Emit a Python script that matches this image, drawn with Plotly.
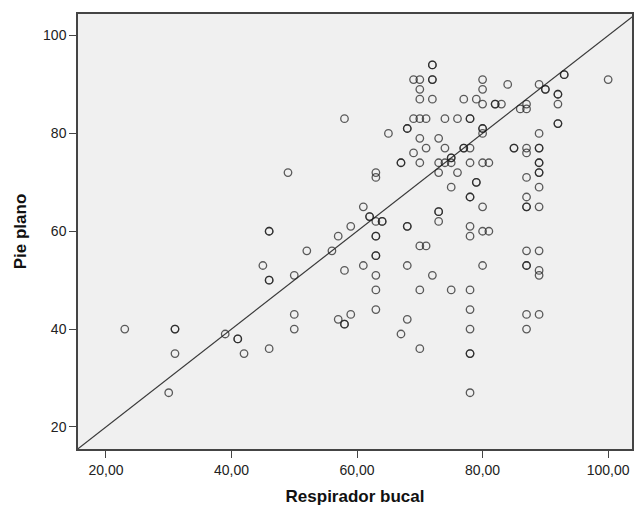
import plotly.graph_objects as go

# Respirador bucal (x) and Pie plano (y) pairs
resp_bucal = [
    23, 30, 31, 31, 31, 39, 41, 41, 42, 45,
    46, 46, 46, 46, 46, 49, 50, 50, 50, 52,
    56, 57, 57, 58, 58, 58, 58, 59, 59, 61, 61,
    62, 62, 63, 63, 63, 63, 63, 63, 63, 63, 63, 63,
    64, 64, 65, 67, 67, 67, 68, 68, 68, 68, 68, 68,
    69, 69, 69, 70, 70, 70, 70, 70, 70, 70, 70, 70,
    71, 71, 71, 72, 72, 72, 72, 72, 72,
    73, 73, 73, 73, 73, 73, 74, 74, 74,
    75, 75, 75, 75, 75, 76, 76, 77, 77, 77,
    78, 78, 78, 78, 78, 78, 78, 78, 78, 78, 78, 78, 78, 78,
    79, 79, 79, 80, 80, 80, 80, 80, 80, 80, 80, 80, 80,
    81, 81, 82, 82, 83, 84, 85, 85, 86,
    87, 87, 87, 87, 87, 87, 87, 87, 87, 87, 87, 87, 87,
    89, 89, 89, 89, 89, 89, 89, 89, 89, 89, 89, 89, 89, 89,
    90, 90, 92, 92, 92, 92, 92, 93, 93, 100,
]
pie_plano = [
    40, 27, 40, 40, 35, 39, 38, 38, 35, 53,
    60, 60, 50, 50, 36, 72, 51, 43, 40, 56,
    56, 59, 42, 83, 52, 41, 41, 61, 43, 65, 53,
    63, 63, 72, 71, 62, 59, 59, 55, 55, 51, 48, 44,
    62, 62, 80, 74, 74, 39, 81, 81, 61, 61, 53, 42,
    91, 83, 76, 91, 89, 87, 83, 79, 74, 57, 48, 36,
    83, 77, 57, 94, 94, 91, 91, 87, 51,
    79, 74, 72, 64, 64, 62, 83, 77, 74,
    75, 75, 74, 69, 48, 83, 72, 87, 77, 77,
    83, 83, 77, 74, 67, 67, 61, 59, 48, 44, 40, 35, 35, 27,
    87, 70, 70, 91, 89, 86, 81, 81, 80, 74, 65, 60, 53,
    74, 60, 86, 86, 86, 90, 77, 77, 85,
    86, 85, 77, 76, 71, 67, 65, 65, 56, 53, 53, 43, 40,
    90, 80, 77, 77, 74, 74, 72, 72, 69, 65, 56, 52, 51, 43,
    89, 89, 88, 88, 86, 82, 82, 92, 92, 91,
]

x_ticks = [20, 40, 60, 80, 100]
x_ticklabels = ["20,00", "40,00", "60,00", "80,00", "100,00"]
y_ticks = [20, 40, 60, 80, 100]
y_ticklabels = ["20", "40", "60", "80", "100"]

x_range = [15.55, 103.8]
y_range = [15.5, 104.4]

fig = go.Figure()

# reference line y = x across the plot
ref = [min(x_range[0], y_range[0]) - 1, max(x_range[1], y_range[1]) + 1]
fig.add_trace(go.Scatter(
    x=ref, y=ref, mode="lines",
    line=dict(color="#3a3a3a", width=1.2),
    hoverinfo="skip", showlegend=False,
))

fig.add_trace(go.Scatter(
    x=resp_bucal, y=pie_plano, mode="markers",
    marker=dict(symbol="circle-open", size=7.5,
                color="rgba(30,30,30,0.72)",
                line=dict(width=1.3)),
    showlegend=False,
))

axis_font = dict(family="Liberation Sans, Arial, sans-serif", size=14, color="#222")
title_font = dict(family="Liberation Sans, Arial, sans-serif", size=17, color="#111")

fig.update_layout(
    width=635, height=506,
    margin=dict(l=78, r=1, t=14, b=57),
    paper_bgcolor="white",
    plot_bgcolor="#F0F0F0",
    xaxis=dict(
        range=x_range, tickvals=x_ticks, ticktext=x_ticklabels,
        showgrid=False, zeroline=False,
        showline=True, mirror=True, linecolor="#444", linewidth=1.5,
        ticks="outside", ticklen=7, tickcolor="#444", tickwidth=1.2,
        tickfont=axis_font,
        title=dict(text="<b>Respirador bucal</b>", font=title_font, standoff=14),
    ),
    yaxis=dict(
        range=y_range, tickvals=y_ticks, ticktext=y_ticklabels,
        showgrid=False, zeroline=False,
        showline=True, mirror=True, linecolor="#444", linewidth=1.5,
        ticks="outside", ticklen=7, tickcolor="#444", tickwidth=1.2,
        tickfont=axis_font,
        title=dict(text="<b>Pie plano</b>", font=title_font, standoff=12),
    ),
)

fig.write_html("out.html")
